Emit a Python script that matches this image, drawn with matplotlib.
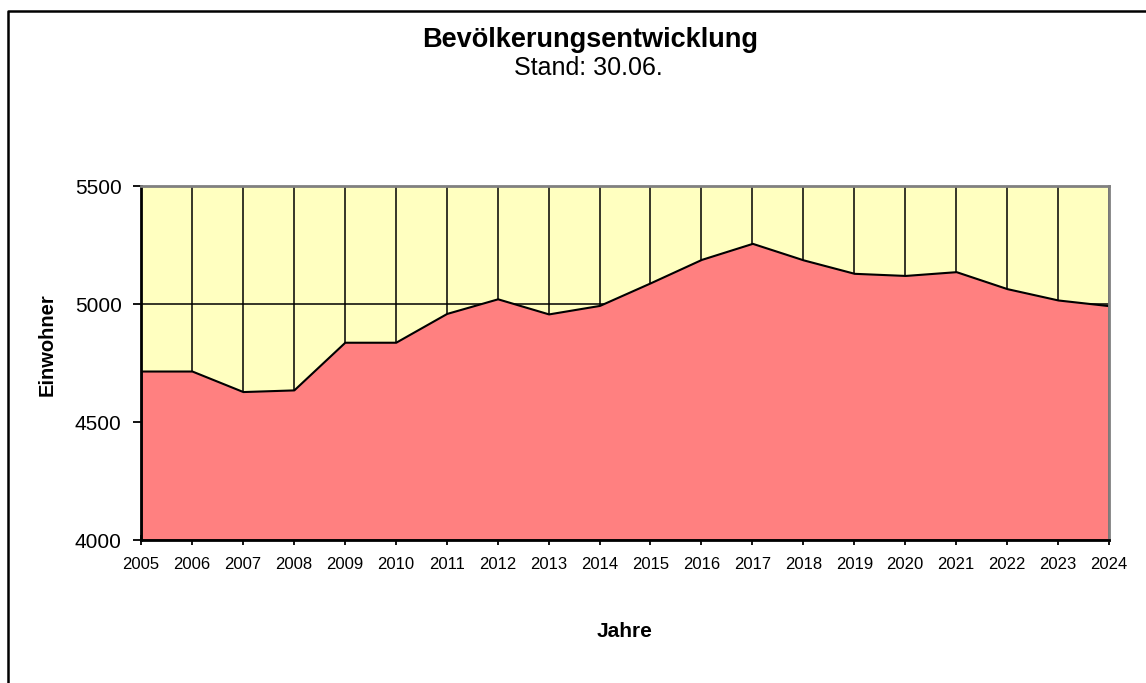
import matplotlib.pyplot as plt
from matplotlib.lines import Line2D

plt.switch_backend('Agg')
plt.rcParams['font.family'] = ['Liberation Sans', 'DejaVu Sans']

# Einwohner je Jahr (Stand 30.06.)
jahre = [2005, 2006, 2007, 2008, 2009, 2010, 2011, 2012, 2013, 2014,
         2015, 2016, 2017, 2018, 2019, 2020, 2021, 2022, 2023, 2024]
einwohner = [4716, 4716, 4629, 4636, 4838, 4838, 4960, 5022, 4958, 4994,
             5090, 5189, 5257, 5187, 5130, 5121, 5137, 5065, 5017, 4993]
y_ticks = [4000, 4500, 5000, 5500]

fig = plt.figure(figsize=(11.46, 6.83), dpi=100)
ax = fig.add_axes([141 / 1146, 1 - 540 / 683, 968 / 1146, 354 / 683])

# Diagrammbereich-Rahmen (nur links und oben sichtbar)
fig.add_artist(Line2D([7.5 / 1146, 7.5 / 1146, 1.0], [0.0, 1 - 10.5 / 683, 1 - 10.5 / 683],
                      transform=fig.transFigure, color='black', lw=1.8))

ax.set_facecolor('#FFFFC0')
ax.fill_between(jahre, y_ticks[0], einwohner, facecolor='#FF8080',
                edgecolor='black', linewidth=1.5, zorder=2)

ax.set_xlim(jahre[0], jahre[-1])
ax.set_ylim(y_ticks[0], y_ticks[-1])
ax.set_xticks(jahre)
ax.set_xticklabels([str(j) for j in jahre])
ax.set_yticks(y_ticks)

ax.set_axisbelow(True)
ax.grid(True, color='black', linewidth=1.1)

for side in ['left', 'bottom']:
    ax.spines[side].set_color('black')
    ax.spines[side].set_linewidth(2)
for side in ['top', 'right']:
    ax.spines[side].set_color('#808080')
    ax.spines[side].set_linewidth(2)

ax.tick_params(axis='x', direction='inout', length=7, width=1.3, labelsize=12, pad=9)
ax.tick_params(axis='y', direction='out', length=6, width=1.3, labelsize=15, pad=8)

ax.set_xlabel('Jahre', fontsize=15, fontweight='bold', labelpad=36)
ax.set_ylabel('Einwohner', fontsize=14.5, fontweight='bold')
ax.yaxis.set_label_coords(-0.087, 0.551)

fig.text(590 / 1146, 1 - 47 / 683, 'Bevölkerungsentwicklung', ha='center', va='baseline',
         fontsize=19.5, fontweight='bold')
fig.text(588 / 1146, 1 - 75 / 683, 'Stand: 30.06.', ha='center', va='baseline',
         fontsize=18)

plt.savefig('out.png', dpi=100)
plt.close()
